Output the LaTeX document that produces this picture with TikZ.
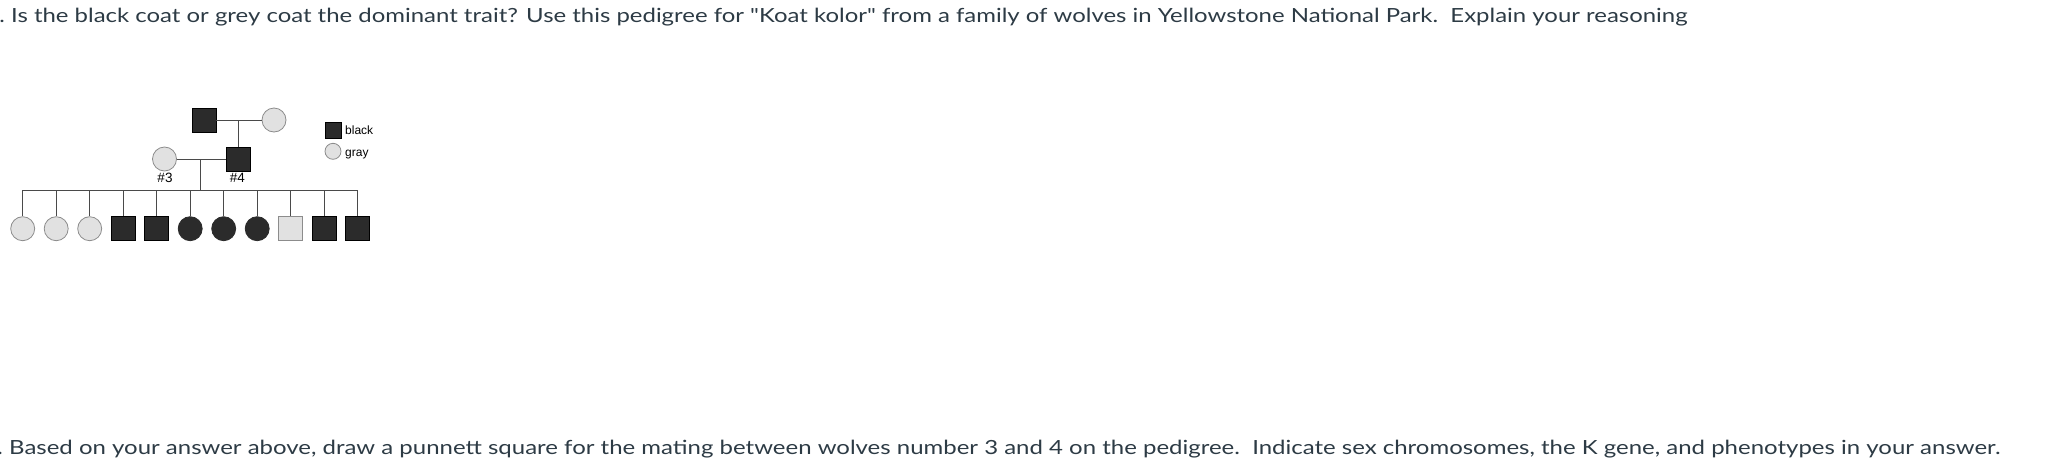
\documentclass[tikz,border=0pt]{standalone}
\usepackage{fontspec}
\newfontfamily\latof{Lato}
\newfontfamily\arialf{Liberation Sans}
\definecolor{txt}{HTML}{2D3B45}
\definecolor{blk}{HTML}{2B2B2B}
\definecolor{gry}{HTML}{E1E1E1}
\definecolor{gryline}{HTML}{8C8C8C}
\definecolor{lin}{HTML}{4A4A4A}
\tikzset{
  qtext/.style={inner sep=0pt, text=txt, font=\latof\fontsize{19.5}{22}\selectfont},
  malebk/.style={rectangle, minimum size=24pt, inner sep=0pt, draw=black, fill=blk, line width=0.8pt},
  malegr/.style={rectangle, minimum size=24pt, inner sep=0pt, draw=gryline, fill=gry, line width=0.8pt},
  femgr/.style={circle, minimum size=24pt, inner sep=0pt, draw=gryline, fill=gry, line width=0.8pt},
  fembk/.style={circle, minimum size=24pt, inner sep=0pt, draw=blk, fill=blk, line width=0.8pt},
  link/.style={draw=lin, line width=0.9pt},
  lbl/.style={inner sep=0pt, text=black, font=\arialf\fontsize{13.5}{15}\selectfont},
  leg/.style={inner sep=0pt, text=black, font=\arialf\fontsize{12}{13}\selectfont}
}
\begin{document}
\begin{tikzpicture}[x=1pt,y=-1pt]
\useasboundingbox (0,0) rectangle (2045,464);
\clip (0,0) rectangle (2045,464);
\fill[white] (0,0) rectangle (2045,464);
% questions
\node[qtext, anchor=base west] (q1) at (11,22.5) {\resizebox{1676pt}{\height}{Is the black coat or grey coat the dominant trait? Use this pedigree for "Koat kolor" from a family of wolves in Yellowstone National Park.\ \ Explain your reasoning}};
\node[qtext, anchor=base east] (q1p) at (q1.base west) {\scalebox{1.2}[1]{5.\ }};
\node[qtext, anchor=base west] (q2) at (9,454.5) {\resizebox{1991pt}{\height}{Based on your answer above, draw a punnett square for the mating between wolves number 3 and 4 on the pedigree.\ \ Indicate sex chromosomes, the K gene, and phenotypes in your answer.}};
\node[qtext, anchor=base east] (q2p) at (q2.base west) {\scalebox{1.2}[1]{6.\ }};
% grandparents
\node[malebk] (gf) at (204,120) {};
\node[femgr] (gm) at (274,120) {};
\coordinate (m1) at (238.3,120);
\draw[link] (gf.east) -- (gm.west);
% parents
\node[femgr] (p3) at (164.5,159) {};
\node[malebk] (p4) at (238.3,159) {};
\draw[link] (m1) -- (p4.north);
\coordinate (m2) at (200,159);
\coordinate (s) at (200,190);
\draw[link] (p3.east) -- (p4.west);
\draw[link] (m2) -- (s);
\node[lbl] (l3) at (165,177.7) {\#3};
\node[lbl] (l4) at (237.3,177.7) {\#4};
% children
\coordinate (sl) at (22.7,190);
\coordinate (sr) at (357.7,190);
\draw[link] (sl) -- (sr);
\foreach \i/\st in {0/femgr,1/femgr,2/femgr,3/malebk,4/malebk,5/fembk,6/fembk,7/fembk,8/malegr,9/malebk,10/malebk}{
  \node[\st] (c\i) at ({22.7+33.5*\i},228.7) {};
  \coordinate (t\i) at ({22.7+33.5*\i},190);
  \draw[link] (t\i) -- (c\i.north);
}
% legend
\node[malebk, minimum size=16pt] (lk) at (333,130.3) {};
\node[femgr, minimum size=16pt] (lg) at (333,151.3) {};
\node[leg, anchor=base west] (tk) at (345,134) {black};
\node[leg, anchor=base west] (tg) at (345,156) {gray};
\end{tikzpicture}
\end{document}
